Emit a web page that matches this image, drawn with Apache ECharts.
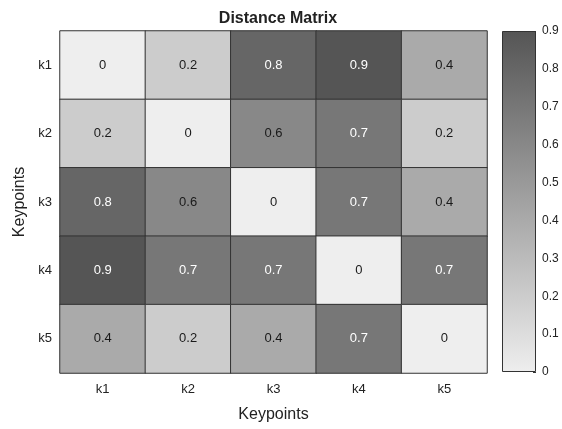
<!DOCTYPE html>
<html><head><meta charset="utf-8">
<script src="https://cdn.jsdelivr.net/npm/echarts@6/dist/echarts.min.js"></script>
<style>html,body{margin:0;padding:0;background:#fff}#c{width:562px;height:429px}</style>
</head><body><div id="c"></div>
<script>
const keypoints = ['k1','k2','k3','k4','k5'];
const matrix = [
  [0, 0.2, 0.8, 0.9, 0.4],
  [0.2, 0, 0.6, 0.7, 0.2],
  [0.8, 0.6, 0, 0.7, 0.4],
  [0.9, 0.7, 0.7, 0, 0.7],
  [0.4, 0.2, 0.4, 0.7, 0]
];
const colorbarTicks = [0,0.1,0.2,0.3,0.4,0.5,0.6,0.7,0.8,0.9];
const vMin = 0, vMax = 0.9;

const data = [];
matrix.forEach((row, i) => row.forEach((v, j) => {
  data.push({value:[j, i, v], label:{color: v >= 0.7 ? '#ffffff' : '#1a1a1a'}});
}));

const chart = echarts.init(document.getElementById('c'));
const font = 'Liberation Sans, Arial, sans-serif';
chart.setOption({
  animation:false,
  title:{text:'Distance Matrix', left:273, textAlign:'center', top:6,
    textStyle:{fontFamily:font, fontSize:16, fontWeight:'bold', color:'#222'}},
  grid:[
    {left:60, top:31, width:427, height:342, show:false},
    {left:502, top:31, width:34, height:341, show:false}
  ],
  xAxis:[
    {type:'category', gridIndex:0, data:keypoints, name:'Keypoints', nameLocation:'middle', nameGap:34,
      nameTextStyle:{fontFamily:font, fontSize:16, color:'#222'},
      axisLine:{show:false}, axisTick:{show:false}, splitLine:{show:false},
      axisLabel:{fontFamily:font, fontSize:13, color:'#222', margin:10}},
    {type:'category', gridIndex:1, data:[''], show:false}
  ],
  yAxis:[
    {type:'category', gridIndex:0, data:keypoints, inverse:true, name:'Keypoints', nameLocation:'middle', nameGap:30,
      nameTextStyle:{fontFamily:font, fontSize:16, color:'#222'},
      axisLine:{show:false}, axisTick:{show:false}, splitLine:{show:false},
      axisLabel:{fontFamily:font, fontSize:13, color:'#222', margin:8}},
    {type:'value', gridIndex:1, position:'right', min:vMin, max:vMax, interval:0.1,
      axisLine:{show:false}, splitLine:{show:false},
      axisTick:{show:true, inside:true, length:3, lineStyle:{color:'#333'}},
      axisLabel:{fontFamily:font, fontSize:12, color:'#222', margin:6,
        formatter: v => { const t = colorbarTicks.find(x => Math.abs(x - v) < 1e-6); return t === undefined ? '' : String(t); }}}
  ],
  visualMap:{show:false, min:vMin, max:vMax, dimension:2, seriesIndex:0, inRange:{color:['#eeeeee','#555555']}},
  series:[
    {type:'heatmap', xAxisIndex:0, yAxisIndex:0, data:data,
      itemStyle:{borderColor:'#333', borderWidth:1},
      label:{show:true, fontFamily:font, fontSize:13, formatter:p => String(p.value[2])},
      emphasis:{disabled:true}},
    {type:'bar', xAxisIndex:1, yAxisIndex:1, data:[vMax], barWidth:'100%', silent:true,
      itemStyle:{borderColor:'#333', borderWidth:1,
        color:new echarts.graphic.LinearGradient(0,0,0,1,[{offset:0,color:'#555555'},{offset:1,color:'#eeeeee'}])}}
  ]
});
</script></body></html>
